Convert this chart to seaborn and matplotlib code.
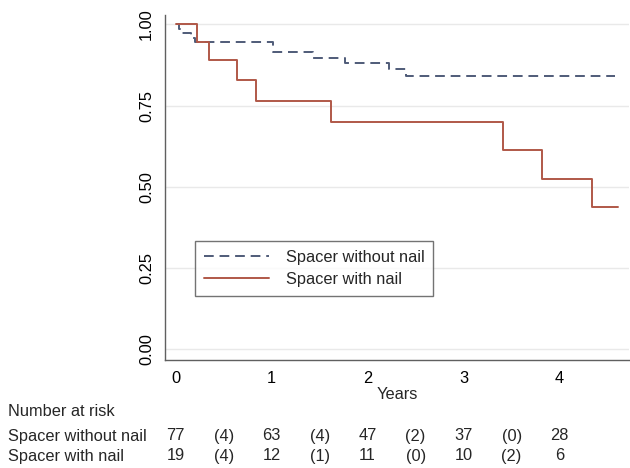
import matplotlib
matplotlib.use("Agg")
import matplotlib.pyplot as plt
import matplotlib.transforms as mtransforms
import seaborn as sns
import pandas as pd

# ---- data ----
groups = ["Spacer without nail", "Spacer with nail"]
t_without = [0, 0.03, 0.07, 0.16, 0.20, 1.01, 1.43, 1.76, 2.22, 2.40, 4.58]
s_without = [1.0, 0.986, 0.972, 0.959, 0.945, 0.914, 0.898, 0.882, 0.862, 0.842, 0.842]
t_with = [0, 0.225, 0.35, 0.64, 0.84, 1.62, 3.41, 3.82, 4.34, 4.61]
s_with = [1.0, 0.947, 0.890, 0.829, 0.764, 0.699, 0.612, 0.524, 0.437, 0.437]

x_ticks = [0, 1, 2, 3, 4]
y_ticks = [0.0, 0.25, 0.5, 0.75, 1.0]
y_ticklabels = ["0.00", "0.25", "0.50", "0.75", "1.00"]

risk_times = [0, 0.5, 1, 1.5, 2, 2.5, 3, 3.5, 4]
risk_without = ["77", "(4)", "63", "(4)", "47", "(2)", "37", "(0)", "28"]
risk_with = ["19", "(4)", "12", "(1)", "11", "(0)", "10", "(2)", "6"]

colors = {"Spacer without nail": "#4f5b78", "Spacer with nail": "#b05848"}

df = pd.concat([
    pd.DataFrame({"t": t_without, "s": s_without, "group": groups[0]}),
    pd.DataFrame({"t": t_with, "s": s_with, "group": groups[1]}),
])

sns.set_theme(style="white")
plt.rcParams["font.family"] = ["Liberation Sans", "DejaVu Sans"]
fs = 11.8

fig = plt.figure(figsize=(6.3, 4.68), dpi=100)
ax = fig.add_axes([0.262, 0.231, 0.736, 0.737])

for g, ls in zip(groups, [(0, (5, 3)), "-"]):
    sub = df[df["group"] == g]
    sns.lineplot(data=sub, x="t", y="s", ax=ax, drawstyle="steps-post",
                 color=colors[g], linestyle=ls, linewidth=1.4, label=g,
                 estimator=None, sort=False)

ax.set_xlim(-0.11, 4.72)
ax.set_ylim(-0.033, 1.029)
ax.set_xticks(x_ticks)
ax.set_yticks(y_ticks)
ax.set_yticklabels(y_ticklabels, rotation=90, va="center")
ax.yaxis.grid(True, color="#e9e9e9", linewidth=1.0)
ax.xaxis.grid(False)
for side in ["top", "right"]:
    ax.spines[side].set_visible(False)
for side in ["left", "bottom"]:
    ax.spines[side].set_color("#606060")
    ax.spines[side].set_linewidth(1.0)
ax.tick_params(axis="both", which="both", direction="out", length=5, width=1,
               color="#606060", labelsize=fs, labelcolor="black", pad=3)
ax.set_xlabel("Years", fontsize=fs, labelpad=1)
ax.set_ylabel("")

leg = ax.legend(loc="lower left", bbox_to_anchor=(0.064, 0.186), fontsize=fs,
                frameon=True, fancybox=False, edgecolor="#505050",
                handlelength=4.0, borderpad=0.55, labelspacing=0.4,
                handletextpad=1.0, borderaxespad=0)
leg.get_frame().set_linewidth(1.0)

trans = mtransforms.blended_transform_factory(ax.transData, fig.transFigure)
fig.text(8 / 630, 1 - 412 / 468, "Number at risk", fontsize=fs, va="center", ha="left")
fig.text(8 / 630, 1 - 436 / 468, groups[0], fontsize=fs, va="center", ha="left")
fig.text(8 / 630, 1 - 456 / 468, groups[1], fontsize=fs, va="center", ha="left")
for xt, a, b in zip(risk_times, risk_without, risk_with):
    ax.text(xt, 1 - 436 / 468, a, transform=trans, fontsize=fs, ha="center", va="center")
    ax.text(xt, 1 - 456 / 468, b, transform=trans, fontsize=fs, ha="center", va="center")

fig.savefig("out.png", dpi=100)
